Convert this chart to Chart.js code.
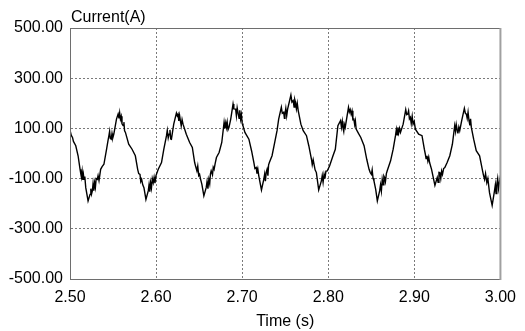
<!DOCTYPE html>
<html>
<head>
<meta charset="utf-8">
<script src="https://cdn.jsdelivr.net/npm/chart.js@4.4.1/dist/chart.umd.min.js"></script>
<style>
  body { margin: 0; background: #fff; }
  canvas { display: block; }
</style>
</head>
<body>
<canvas id="currentChart" width="525" height="331"></canvas>
<script>
const startTime = 2.5;
const yTitle = "Current(A)";
const xTitle = "Time (s)";
const xTicks = [2.5, 2.6, 2.7, 2.8, 2.9, 3.0];
const yTicks = [-500, -300, -100, 100, 300, 500];

// sample times, ms after 2.50 s
const timeMs = [
  0.2, 1.5, 2.9, 4.0, 6.7, 9.4, 11.7, 12.5, 13.3, 14.1,
  14.9, 15.6, 16.3, 17.2, 18.3, 21.0, 23.3, 24.2, 25.0, 26.0,
  26.8, 27.7, 28.6, 29.5, 30.4, 31.7, 32.6, 33.7, 35.6, 37.3,
  39.4, 42.5, 44.1, 45.2, 46.0, 46.8, 47.9, 48.8, 49.7, 50.9,
  54.0, 55.9, 56.9, 57.7, 58.6, 59.5, 60.4, 61.7, 62.6, 63.4,
  64.4, 68.2, 72.1, 75.9, 78.6, 79.8,

  81.3, 82.2, 83.2, 84.5, 85.9, 88.2, 90.9, 91.8, 92.7, 93.6,
  94.6, 95.6, 96.7, 97.7, 98.7, 99.8, 102.5, 106.3, 109.0, 112.1,
  113.0, 114.1, 115.1, 116.1, 117.0, 117.8, 120.5, 123.6, 124.6, 125.5,
  126.4, 127.3, 128.2, 129.2, 130.2, 131.3, 135.1, 139.0, 142.1, 144.8,
  146.0, 147.4, 148.4, 149.5, 150.5, 151.8, 153.2, 155.5, 158.2, 159.2,
  160.2, 161.3, 162.3, 163.1, 164.0,

  165.5, 166.4, 167.4, 168.6, 170.1, 173.2, 176.3, 179.0, 179.9, 180.9,
  181.7, 182.6, 183.6, 184.7, 186.7, 189.4, 190.3, 192.4, 193.3, 194.2,
  195.5, 196.4, 197.2, 198.2, 199.1, 200.0, 200.9, 203.2, 207.8, 210.9,
  213.6, 214.8, 216.3, 217.2, 218.2, 219.3, 222.4, 225.1, 226.1, 227.0,
  227.9, 228.9, 229.9, 230.7, 231.6, 234.7, 237.8, 240.5, 242.4, 245.5,
  246.6, 248.2, 249.1,

  249.7, 250.7, 251.7, 252.8, 256.6, 257.8, 259.3, 260.3, 261.1, 262.0,
  263.0, 264.0, 265.1, 268.2, 270.9, 274.7, 277.4, 280.5, 281.4, 282.5,
  283.5, 284.7, 286.2, 288.9, 292.0, 293.0, 294.0, 295.1, 296.1, 297.3,
  298.9, 301.6, 305.5, 308.2, 311.2, 314.3, 315.3, 316.3, 317.0, 318.0,
  318.8, 319.7, 323.5, 324.5, 325.5, 326.6, 327.6, 328.6, 329.7, 330.7,
  331.5, 332.4, 335.1,

  337.8, 341.6, 344.7, 347.4, 348.7, 350.1, 351.0, 352.0, 353.1, 355.1,
  357.0, 359.7, 360.7, 361.7, 362.7, 363.8, 364.6, 365.4, 366.4, 367.5,
  368.5, 372.4, 375.4, 378.1, 379.1, 379.9, 380.8, 381.8, 382.8, 383.9,
  387.0, 390.0, 391.1, 392.3, 393.3, 394.3, 395.4, 396.4, 397.5, 398.5,
  399.8, 401.2, 405.0, 408.9, 411.6, 412.6, 413.6, 414.7, 415.7, 416.7,
  417.7,

  420.0, 422.0, 423.9, 426.6, 427.6, 428.6, 429.6, 430.7, 431.7, 432.7,
  434.0, 435.4, 438.1, 441.2, 444.2, 446.9, 447.9, 448.7, 449.6, 450.6,
  451.7, 452.7, 455.0, 458.1, 459.3, 460.4, 461.4, 462.4, 463.5, 464.5,
  465.3, 466.2, 468.9, 471.9, 475.8, 478.9, 480.2, 481.6, 482.7, 484.2,
  485.4, 487.3, 490.4, 493.1, 494.1, 494.9, 495.8, 496.8, 497.8, 498.8,
  499.8, 500.8,
];

// current in A at those times
const current = [
  90, 72, 64, 48, 31, -9, -63, -80, -95, -72,
  -105, -84, -103, -92, -136, -189, -163, -140, -162, -149,
  -120, -148, -116, -135, -100, -103, -88, -108, -63, -52,
  -43, 17, 50, 71, 88, 60, 57, 80, 62, 77,
  137, 157, 140, 162, 137, 148, 118, 111, 125, 90,
  84, 37, 17, -9, -63, -80,

  -83, -112, -103, -125, -136, -183, -149, -125, -152, -116,
  -138, -100, -116, -95, -118, -89, -63, -36, 17, 71,
  92, 62, 77, 94, 58, 57, 117, 161, 150, 157,
  130, 152, 131, 110, 135, 117, 77, 44, 24, -36,
  -52, -69, -50, -88, -83, -104, -123, -169, -136, -112,
  -140, -103, -120, -82, -69,

  -85, -55, -63, -40, -16, 4, 44, 124, 100, 122,
  104, 125, 95, 104, 137, 197, 178, 177, 150, 182,
  157, 140, 172, 137, 155, 120, 111, 84, 57, 11,
  -36, -60, -56, -80, -62, -89, -145, -103, -82, -110,
  -75, -63, -88, -45, -36, -9, 44, 91, 137, 184,
  160, 164, 140,

  157, 180, 150, 177, 233, 205, 211, 185, 215, 204,
  178, 200, 171, 117, 91, 71, 31, -23, -45, -25,
  -43, -65, -76, -145, -109, -88, -115, -83, -100, -70,
  -69, -49, -9, 17, 111, 131, 105, 128, 104, 88,
  115, 104, 184, 165, 175, 157, 170, 135, 137, 115,
  130, 97, 80,

  64, 31, -23, -63, -75, -83, -65, -98, -109, -143,
  -189, -149, -125, -150, -103, -125, -90, -96, -112, -80,
  -69, -29, 17, 71, 95, 75, 104, 82, 100, 84,
  117, 175, 155, 157, 170, 138, 144, 120, 148, 117,
  128, 97, 77, 71, 17, 0, -20, -9, -30, -15,
  -36,

  -63, -96, -127, -96, -115, -75, -76, -100, -70, -83,
  -60, -56, -36, -9, 37, 111, 88, 115, 97, 80,
  105, 91, 131, 180, 160, 157, 140, 165, 131, 112,
  138, 104, 57, 11, -9, -63, -85, -103, -80, -116,
  -100, -156, -207, -149, -125, -160, -123, -100, -140, -116,
  -95, -129,
];

const points = timeMs.map((ms, i) => ({ x: startTime + ms / 1000, y: current[i] }));

const labelFont = { family: "'Liberation Sans', Arial, sans-serif", size: 16 };

// plot box and the "Current(A)" caption above it
const framePlugin = {
  id: "frame",
  afterDraw(chart) {
    const { ctx, chartArea: a } = chart;
    ctx.save();
    ctx.strokeStyle = "#6e6e6e";
    ctx.lineWidth = 1;
    ctx.beginPath();
    ctx.moveTo(a.left + 0.5, a.bottom + 0.5);
    ctx.lineTo(a.left + 0.5, a.top + 0.5);
    ctx.lineTo(a.right, a.top + 0.5);
    ctx.stroke();
    ctx.strokeStyle = "#a0a0a0";
    ctx.lineWidth = 2;
    ctx.beginPath();
    ctx.moveTo(a.right, a.top);
    ctx.lineTo(a.right, a.bottom + 1);
    ctx.stroke();
    ctx.fillStyle = "#000";
    ctx.font = "16px 'Liberation Sans', Arial, sans-serif";
    ctx.textAlign = "left";
    ctx.textBaseline = "alphabetic";
    ctx.fillText(yTitle, a.left + 1, a.top - 6);
    ctx.restore();
  },
};

new Chart(document.getElementById("currentChart"), {
  type: "line",
  data: {
    datasets: [
      {
        data: points,
        borderColor: "#000",
        borderWidth: 1.4,
        pointRadius: 0,
        tension: 0,
        fill: false,
      },
    ],
  },
  options: {
    responsive: false,
    animation: false,
    events: [],
    layout: { padding: { top: 28, right: 21, left: 0, bottom: 0 } },
    plugins: {
      legend: { display: false },
      tooltip: { enabled: false },
    },
    scales: {
      x: {
        type: "linear",
        min: xTicks[0],
        max: xTicks[xTicks.length - 1],
        afterFit: (s) => { s.height = 52; },
        afterBuildTicks: (s) => { s.ticks = xTicks.map((v) => ({ value: v })); },
        ticks: {
          color: "#000",
          font: labelFont,
          padding: 9,
          maxRotation: 0,
          callback: (v) => Number(v).toFixed(2),
        },
        grid: { color: "#7a7a7a", drawTicks: false, lineWidth: 1 },
        border: { color: "#6e6e6e", dash: [2, 2] },
        title: {
          display: true,
          text: xTitle,
          color: "#000",
          font: labelFont,
          padding: { top: 10, bottom: 0 },
        },
      },
      y: {
        min: yTicks[0],
        max: yTicks[yTicks.length - 1],
        afterFit: (s) => { s.width = 70; },
        afterBuildTicks: (s) => { s.ticks = yTicks.map((v) => ({ value: v })); },
        ticks: {
          color: "#000",
          font: labelFont,
          padding: 7,
          callback: (v) => Number(v).toFixed(2),
        },
        grid: { color: "#7a7a7a", drawTicks: false, lineWidth: 1 },
        border: { color: "#6e6e6e", dash: [2, 2] },
      },
    },
  },
  plugins: [framePlugin],
});
</script>
</body>
</html>
